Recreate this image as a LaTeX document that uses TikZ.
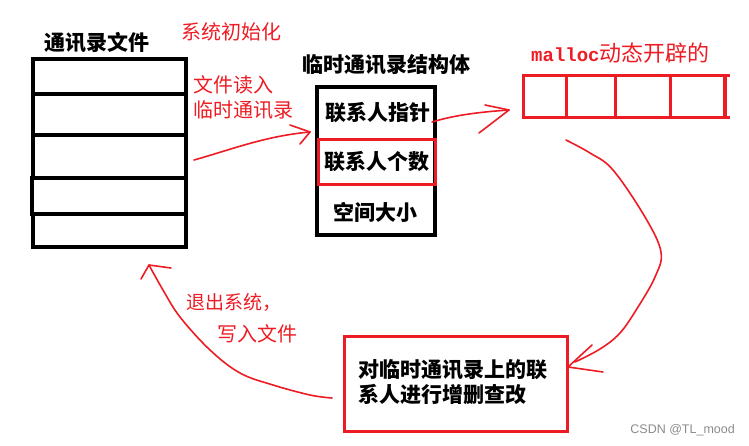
\documentclass[tikz,border=0pt]{standalone}
\usepackage{fontspec}
\newfontfamily\cjk{Noto Sans CJK SC}
\newfontfamily\monof{Liberation Mono}
\newfontfamily\wmfont{Liberation Sans}
\definecolor{pred}{RGB}{237,28,36}
\tikzset{
  cell/.style={draw=black, line width=3.2pt, anchor=north west, inner sep=0pt, outer sep=0pt},
  rcell/.style={draw=pred, line width=3pt, anchor=north west, inner sep=0pt, outer sep=0pt},
  btxt/.style={font=\cjk\bfseries\fontsize{21}{21}\selectfont, text=black, inner sep=0pt},
  rtxt/.style={font=\cjk\fontsize{20}{20}\selectfont, text=pred, inner sep=0pt},
  hand/.style={draw=pred, line width=1.6pt, line cap=round, line join=round},
}
\begin{document}
\begin{tikzpicture}[x=1pt,y=-1pt]
\useasboundingbox (0,0) rectangle (749,445);
% left file
\node[cell, minimum width=153pt, minimum height=35pt] (f1) at (33,59) {};
\node[cell, minimum width=153pt, minimum height=41pt] (f2) at (33,94) {};
\node[cell, minimum width=153pt, minimum height=43pt] (f3) at (33,135) {};
\node[cell, minimum width=154pt, minimum height=36pt] (f4) at (32,178) {};
\node[cell, minimum width=153pt, minimum height=33pt] (f5) at (33,214) {};
\node[btxt] (ftitle) at (97,43) {通讯录文件};
% labels
\node[rtxt] (init) at (231,32) {系统初始化};
\node[rtxt, anchor=west] (read1) at (193,85) {文件读入};
\node[rtxt, anchor=west] (read2) at (193,110) {临时通讯录};
% struct
\node[btxt] (stitle) at (386,65) {临时通讯录结构体};
\node[cell, minimum width=118pt, minimum height=148pt] (sbox) at (317,87) {};
\node[rcell, minimum width=117pt, minimum height=45pt] (scount) at (318,139) {};
\node[btxt] (sp) at (378,113) {联系人指针};
\node[btxt] (sc) at (377,162) {联系人个数};
\node[btxt] (ss) at (375,212) {空间大小};
% malloc
\node[inner sep=0pt, anchor=west, text=pred] (mtitle) at (531,53) {{\monof\bfseries\fontsize{19}{19}\selectfont malloc}{\cjk\fontsize{22}{22}\selectfont 动态开辟的}};
\node[rcell, minimum width=43pt, minimum height=42pt] (m1) at (523,75) {};
\node[rcell, minimum width=49pt, minimum height=42pt] (m2) at (566,75) {};
\node[rcell, minimum width=55pt, minimum height=42pt] (m3) at (615,75) {};
\node[rcell, minimum width=55pt, minimum height=42pt] (m4) at (670,75) {};
\coordinate (mt) at (730,75);
\coordinate (mb) at (730,117);
\draw[pred, line width=3pt] (m4.north east) -- (mt);
\draw[pred, line width=3pt] (m4.south east) -- (mb);
\draw[pred, line width=4pt] (m4.north east) -- (m4.south east);
% operation box
\node[rcell, minimum width=223pt, minimum height=95pt] (op) at (344,336) {};
\node[btxt, anchor=west, align=left, font=\cjk\bfseries\fontsize{21}{25}\selectfont] (optxt) at (358,382) {对临时通讯录上的联\\系人进行增删查改};
% exit labels
\node[rtxt, font=\cjk\fontsize{19}{19}\selectfont, anchor=west] (exit1) at (186,302) {退出系统，};
\node[rtxt, anchor=west] (exit2) at (217,334) {写入文件};
% watermark
\node[inner sep=0pt, anchor=east, text=black!45, font=\wmfont\fontsize{12.5}{12.5}\selectfont] (wm) at (735,430) {CSDN @TL\_mood};
% arrow 1
\coordinate (a1s) at (194,160);
\coordinate (a1t) at (310,132);
\coordinate (a1h1) at (290,125);
\coordinate (a1h2) at (300,144);
\draw[hand] (a1s) .. controls (230,150) and (265,136) .. (a1t);
\draw[hand] (a1h1) -- (a1t) -- (a1h2);
% arrow 2
\coordinate (a2s) at (432,122);
\coordinate (a2t) at (509,110);
\coordinate (a2h1) at (485,105);
\coordinate (a2h2) at (479,133);
\draw[hand] (a2s) .. controls (455,115) and (480,112) .. (a2t);
\draw[hand] (a2h1) -- (a2t) -- (a2h2);
% arrow 3
\coordinate (a3s) at (566,140);
\coordinate (a3e) at (575,362);
\coordinate (a3t) at (568,367);
\coordinate (a3h1) at (592,345);
\coordinate (a3h2) at (603,372);
\draw[hand] plot[smooth, tension=0.6] coordinates {(a3s) (590,153) (613,170) (645,217) (661,252) (655,277) (638,307) (620,333) (600,349) (a3e)};
\draw[hand] (a3h1) -- (a3t) -- (a3h2);
% arrow 4
\coordinate (a4s) at (332,398);
\coordinate (a4t) at (149,265);
\coordinate (a4h1) at (141,279);
\coordinate (a4h2) at (171,268);
\draw[hand] plot[smooth, tension=0.6] coordinates {(a4s) (310,395) (273,385) (240,373) (210,350) (180,317) (163,290) (a4t)};
\draw[hand] (a4h1) -- (a4t) -- (a4h2);
\end{tikzpicture}
\end{document}
